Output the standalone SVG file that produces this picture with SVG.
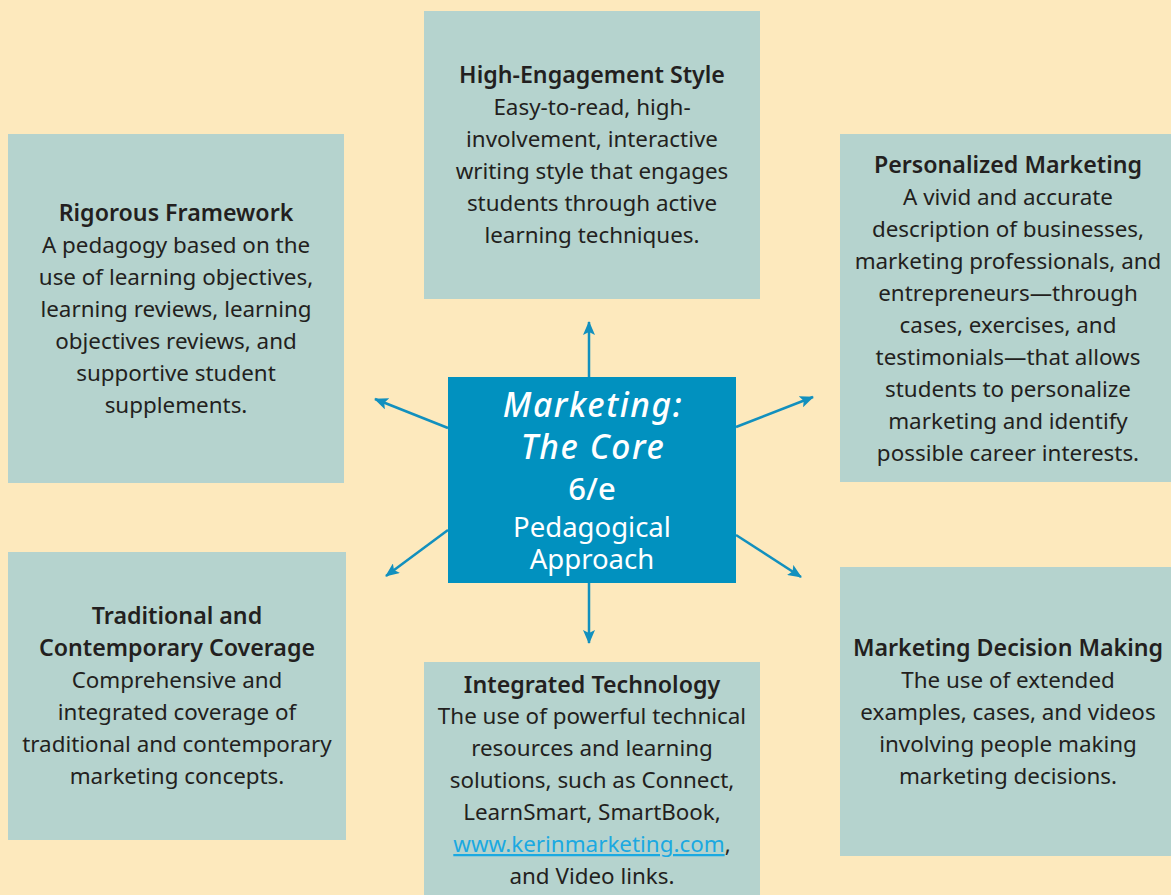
<svg xmlns="http://www.w3.org/2000/svg" width="1171" height="895" viewBox="0 0 1171 895">
  <style>
    .box { fill: #B5D3CE; }
    .t { font-family: "Noto Sans", "Open Sans", "Liberation Sans", sans-serif; font-size: 22.4px; fill: #231F20; text-anchor: middle; }
    .h { font-weight: 600; font-size: 23.2px; }
    .c { font-family: "Noto Sans", "Open Sans", "Liberation Sans", sans-serif; fill: #FFFFFF; text-anchor: middle; }
    .ttl { font-size: 33.5px; font-style: italic; font-weight: 500; letter-spacing: 1.6px; }
    .link { fill: #1BA9E1; text-decoration: underline; }
    .arrow { stroke: #1290BE; stroke-width: 2.5; fill: none; marker-end: url(#head); }
  </style>
  <defs>
    <marker id="head" viewBox="0 0 14 12" refX="13" refY="6" markerWidth="14" markerHeight="12" markerUnits="userSpaceOnUse" orient="auto">
      <path d="M0,0 L14,6 L0,12 L3,6 Z" fill="#1290BE"/>
    </marker>
  </defs>

  <rect width="1171" height="895" fill="#FDE9BD"/>

  <!-- connectors from the centre box outward -->
  <g id="connectors">
    <line class="arrow" x1="589" y1="377" x2="589" y2="322"/>
    <line class="arrow" x1="589" y1="583" x2="589" y2="643"/>
    <line class="arrow" x1="448" y1="428" x2="375" y2="399"/>
    <line class="arrow" x1="736" y1="427" x2="813" y2="397"/>
    <line class="arrow" x1="448" y1="530" x2="386" y2="576"/>
    <line class="arrow" x1="736" y1="535" x2="801" y2="577"/>
  </g>

  <g id="center">
    <rect x="448" y="377" width="288" height="206" fill="#0191BF"/>
    <text class="c ttl" x="593" y="417">Marketing:</text>
    <text class="c ttl" x="593" y="459">The Core</text>
    <text class="c" x="592" y="500" font-size="31" font-weight="500">6/e</text>
    <text class="c" x="592" y="537" font-size="27.5">Pedagogical</text>
    <text class="c" x="592" y="569" font-size="27.5">Approach</text>
  </g>

  <g id="high-engagement">
    <rect class="box" x="424" y="11" width="336" height="288"/>
    <text class="t h" x="592" y="83">High-Engagement Style</text>
    <text class="t" x="592" y="115">Easy-to-read, high-</text>
    <text class="t" x="592" y="147">involvement, interactive</text>
    <text class="t" x="592" y="179">writing style that engages</text>
    <text class="t" x="592" y="211">students through active</text>
    <text class="t" x="592" y="243">learning techniques.</text>
  </g>

  <g id="rigorous">
    <rect class="box" x="8" y="134" width="336" height="349"/>
    <text class="t h" x="176" y="221">Rigorous Framework</text>
    <text class="t" x="176" y="253">A pedagogy based on the</text>
    <text class="t" x="176" y="285">use of learning objectives,</text>
    <text class="t" x="176" y="317">learning reviews, learning</text>
    <text class="t" x="176" y="349">objectives reviews, and</text>
    <text class="t" x="176" y="381">supportive student</text>
    <text class="t" x="176" y="413">supplements.</text>
  </g>

  <g id="personalized">
    <rect class="box" x="840" y="134" width="340" height="348"/>
    <text class="t h" x="1008" y="173">Personalized Marketing</text>
    <text class="t" x="1008" y="205">A vivid and accurate</text>
    <text class="t" x="1008" y="237">description of businesses,</text>
    <text class="t" x="1008" y="269">marketing professionals, and</text>
    <text class="t" x="1008" y="301">entrepreneurs—through</text>
    <text class="t" x="1008" y="333">cases, exercises, and</text>
    <text class="t" x="1008" y="365">testimonials—that allows</text>
    <text class="t" x="1008" y="397">students to personalize</text>
    <text class="t" x="1008" y="429">marketing and identify</text>
    <text class="t" x="1008" y="461">possible career interests.</text>
  </g>

  <g id="traditional">
    <rect class="box" x="8" y="552" width="338" height="288"/>
    <text class="t h" x="177" y="624">Traditional and</text>
    <text class="t h" x="177" y="656">Contemporary Coverage</text>
    <text class="t" x="177" y="688">Comprehensive and</text>
    <text class="t" x="177" y="720">integrated coverage of</text>
    <text class="t" x="177" y="752">traditional and contemporary</text>
    <text class="t" x="177" y="784">marketing concepts.</text>
  </g>

  <g id="integrated">
    <rect class="box" x="424" y="662" width="336" height="240"/>
    <text class="t h" x="592" y="693">Integrated Technology</text>
    <text class="t" x="592" y="724">The use of powerful technical</text>
    <text class="t" x="592" y="756">resources and learning</text>
    <text class="t" x="592" y="788">solutions, such as Connect,</text>
    <text class="t" x="592" y="820">LearnSmart, SmartBook,</text>
    <text class="t" x="592" y="852"><tspan class="link">www.kerinmarketing.com</tspan>,</text>
    <text class="t" x="592" y="884">and Video links.</text>
  </g>

  <g id="decision">
    <rect class="box" x="840" y="567" width="340" height="289"/>
    <text class="t h" x="1008" y="656">Marketing Decision Making</text>
    <text class="t" x="1008" y="688">The use of extended</text>
    <text class="t" x="1008" y="720">examples, cases, and videos</text>
    <text class="t" x="1008" y="752">involving people making</text>
    <text class="t" x="1008" y="784">marketing decisions.</text>
  </g>
</svg>
